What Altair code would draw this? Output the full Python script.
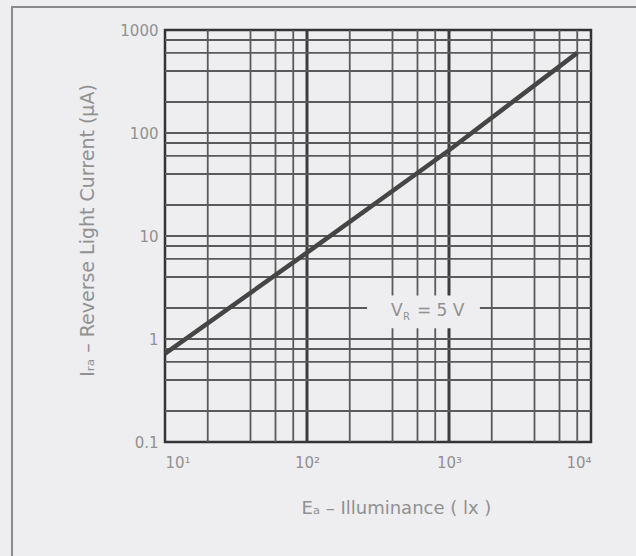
import altair as alt
import pandas as pd

# Reverse light current vs. illuminance at V_R = 5 V
illuminance_lx = [10, 100, 1000, 8000]
light_current_ua = [0.72, 6.9, 68, 600]

# Axis ticks and labels
x_ticks = [10, 100, 1000, 10000]
x_tick_labels = ["10¹", "10²", "10³", "10⁴"]
y_ticks = [0.1, 1, 10, 100, 1000]
y_tick_labels = ["0.1", "1", "10", "100", "1000"]

# Log-paper grid: 2, 4, 6, 8 and decade lines
grid_x = [20, 40, 60, 80, 100, 200, 400, 600, 800, 1000, 2000, 4000, 6000, 8000]
grid_x_decade = [100, 1000]
grid_y = [0.2, 0.4, 0.6, 0.8, 1, 2, 4, 6, 8, 10, 20, 40, 60, 80, 100,
          200, 400, 600, 800]

# Annotation for the bias condition
note_E = [390]
note_I = [2]
note_box_E = [265, 1650]
note_box_I = [1.27, 2.65]

BG = "#eeedf0"
INK = "#919191"
GRID = "#5a5a5a"
FONT = "DejaVu Sans"


def label_expr(values, labels):
    pairs = ",".join(f"'{v}':'{l}'" for v, l in zip(values, labels))
    return "{" + pairs + "}['' + datum.value]"


x_scale = alt.Scale(type="log", domain=[10, 10000], nice=False)
y_scale = alt.Scale(type="log", domain=[0.1, 1000], nice=False)

x_axis = alt.Axis(
    values=x_ticks, labelExpr=label_expr(x_ticks, x_tick_labels),
    labelPadding=13, labelFontSize=15,
    title="Eₐ – Illuminance ( lx )", titleX=231, titleY=66,
    titleBaseline="middle", titleAlign="center", titleFontSize=18,
)
y_axis = alt.Axis(
    values=y_ticks, labelExpr=label_expr(y_ticks, y_tick_labels),
    labelPadding=7, labelFontSize=15, labelBaseline="middle",
    title="Iᵣₐ – Reverse Light Current (µA)", titleX=-78, titleY=200,
    titleBaseline="middle", titleAlign="center", titleFontSize=19,
)

curve_df = pd.DataFrame({"E": illuminance_lx, "I": light_current_ua})

base_x = alt.X("E:Q", scale=x_scale, axis=x_axis)
base_y = alt.Y("I:Q", scale=y_scale, axis=y_axis)

vgrid = alt.Chart(pd.DataFrame({"E": grid_x})).mark_rule(
    color=GRID, strokeWidth=1.8
).encode(x=alt.X("E:Q", scale=x_scale, axis=x_axis))

vgrid_decade = alt.Chart(pd.DataFrame({"E": grid_x_decade})).mark_rule(
    color="#3c3c3c", strokeWidth=3
).encode(x=alt.X("E:Q", scale=x_scale, axis=x_axis))

hgrid = alt.Chart(pd.DataFrame({"I": grid_y})).mark_rule(
    color=GRID, strokeWidth=1.8
).encode(y=alt.Y("I:Q", scale=y_scale, axis=y_axis))

note_box = alt.Chart(pd.DataFrame({
    "E": [note_box_E[0]], "E2": [note_box_E[1]],
    "I": [note_box_I[0]], "I2": [note_box_I[1]],
})).mark_rect(fill=BG).encode(
    x=alt.X("E:Q", scale=x_scale, axis=x_axis), x2="E2",
    y=alt.Y("I:Q", scale=y_scale, axis=y_axis), y2="I2",
)

note_df = pd.DataFrame({"E": note_E, "I": note_I})
note_pos = dict(
    x=alt.X("E:Q", scale=x_scale, axis=x_axis),
    y=alt.Y("I:Q", scale=y_scale, axis=y_axis),
)
note_v = alt.Chart(note_df).mark_text(
    text="V", font=FONT, fontSize=17, color=INK, align="left",
    baseline="middle", dy=3
).encode(**note_pos)
note_sub = alt.Chart(note_df).mark_text(
    text="R", font=FONT, fontSize=10, color=INK, align="left",
    baseline="middle", dx=12, dy=9
).encode(**note_pos)
note_rest = alt.Chart(note_df).mark_text(
    text="= 5 V", font=FONT, fontSize=17, color=INK, align="left",
    baseline="middle", dx=26, dy=3
).encode(**note_pos)

curve = alt.Chart(curve_df).mark_line(
    color="#454545", strokeWidth=4.5
).encode(x=base_x, y=base_y)

# Page frame (left and top edges)
frame_left = alt.Chart(curve_df).mark_rule(color="#8a8a8a", strokeWidth=2).encode(
    x=alt.value(-153), y=alt.value(-23), y2=alt.value(530)
)
frame_top = alt.Chart(curve_df).mark_rule(color="#8a8a8a", strokeWidth=2).encode(
    x=alt.value(-154), x2=alt.value(475), y=alt.value(-23)
)

chart = alt.layer(
    vgrid, vgrid_decade, hgrid, note_box, note_v, note_sub, note_rest,
    curve, frame_left, frame_top
).properties(
    width=426, height=412,
    autosize=alt.AutoSizeParams(type="none"),
    padding={"left": 165, "top": 30, "right": 45, "bottom": 114},
    background=BG,
).configure_view(
    fill=BG, stroke="#333333", strokeWidth=2.5
).configure_axis(
    grid=False, domain=False, ticks=False,
    labelFont=FONT, labelColor=INK, titleFont=FONT, titleColor=INK,
    titleFontWeight="normal",
)

chart.save("out.html", embed_options={"renderer": "svg", "actions": False})
